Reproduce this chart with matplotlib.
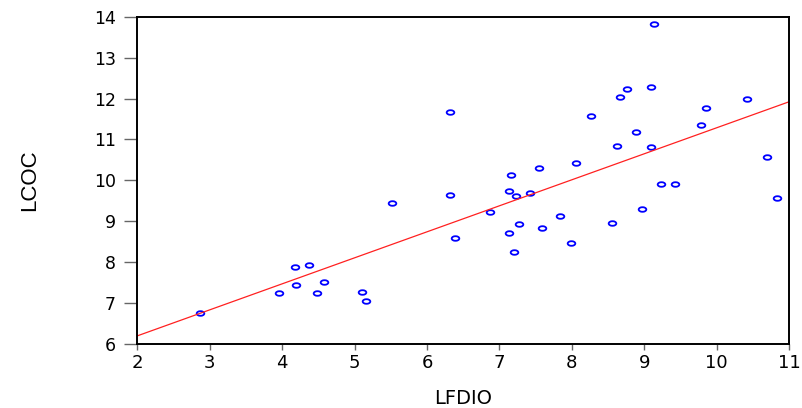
import matplotlib
matplotlib.use('Agg')
import matplotlib.pyplot as plt
import numpy as np
from matplotlib.path import Path
from matplotlib.transforms import Affine2D

plt.rcParams['font.family'] = ['DejaVu Sans']

# LFDIO vs LCOC
lfdio = [2.86, 3.96, 4.19, 4.18, 4.37, 4.48, 4.57, 5.10, 5.15, 5.52,
         6.32, 6.32, 6.39, 6.87, 7.13, 7.16, 7.23, 7.42, 7.13, 7.27,
         7.20, 7.55, 7.59, 7.83, 7.99, 8.06, 8.26, 8.56, 8.63, 8.67,
         8.76, 8.88, 8.97, 9.09, 9.09, 9.13, 9.23, 9.42, 9.79, 9.86,
         10.42, 10.69, 10.83]
lcoc = [6.75, 7.24, 7.43, 7.87, 7.94, 7.25, 7.51, 7.26, 7.04, 9.45,
        11.68, 9.65, 8.60, 9.23, 9.73, 10.12, 9.61, 9.68, 8.71, 8.94,
        8.24, 10.30, 8.83, 9.12, 8.48, 10.42, 11.57, 8.95, 10.83, 12.03,
        12.23, 11.19, 9.29, 12.28, 10.82, 13.82, 9.92, 9.92, 11.35, 11.76,
        11.98, 10.57, 9.56]

# fitted line ends (x=2 and x=11)
fit_x = [2, 11]
fit_y = [6.20, 11.92]

fig = plt.figure(figsize=(8.03, 4.08), dpi=100)
ax = fig.add_axes([0.1712, 0.1569, 0.8114, 0.8022])

# flat ellipse marker like the original
ell = Affine2D().scale(1.0, 0.6).transform_path(Path.unit_circle())
ax.plot(lfdio, lcoc, linestyle='none', marker=ell, markersize=5.5,
        markerfacecolor='none', markeredgecolor='#0000ff', markeredgewidth=1.3)
ax.plot(fit_x, fit_y, color='#ff2020', linewidth=0.9)

ax.set_xlim(2, 11)
ax.set_ylim(6, 14)
ax.set_xticks(range(2, 12))
ax.set_yticks(range(6, 15))
ax.tick_params(axis='y', direction='out', length=9.5, width=1, color='#666666',
               labelsize=12.5, pad=6)
ax.tick_params(axis='x', direction='out', length=4, width=1, color='#666666',
               labelsize=13, pad=3)
for s in ax.spines.values():
    s.set_linewidth(1.4)

ax.set_xlabel('LFDIO', fontsize=14)
ax.xaxis.set_label_coords(0.5, -0.168)
ax.xaxis.label.set_va('center')
ax.set_ylabel('LCOC', fontsize=16,
              family=['Liberation Sans Narrow', 'Liberation Sans'])
ax.yaxis.set_label_coords(-0.166, 0.5)
ax.yaxis.label.set_va('center')

fig.savefig('out.png', dpi=100)
